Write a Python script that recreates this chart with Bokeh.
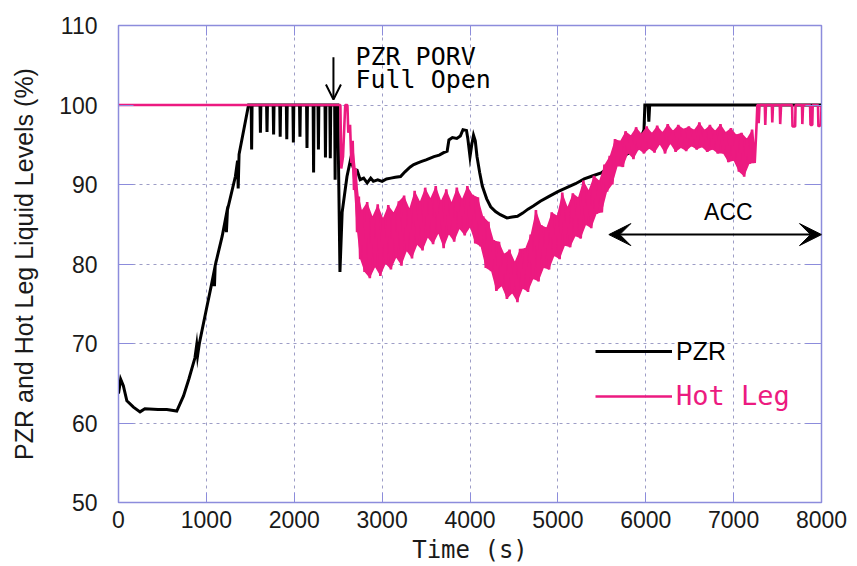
from bokeh.plotting import figure
from bokeh.models import (Range1d, LinearAxis, SingleIntervalTicker, Arrow, VeeHead,
                          OpenHead, Label, Legend, LegendItem)
from bokeh.embed import file_html
from bokeh.resources import INLINE

# ---------------- data ----------------
pzr_t = [0, 25, 55, 95, 170, 245, 300, 450, 550, 663, 740, 800, 870, 890, 900, 920,
         1000, 1060, 1085, 1092, 1100, 1180, 1220, 1228, 1240, 1330, 1355, 1362, 1372, 1480,
         1510, 1515, 1520, 1610, 1615, 1620, 1685, 1690, 1695, 1760, 1765, 1770,
         1835, 1840, 1845, 1910, 1915, 1920, 1985, 1990, 1995, 2060, 2065, 2070,
         2140, 2145, 2150, 2215, 2220, 2225, 2270, 2275, 2280, 2350, 2355, 2360,
         2405, 2410, 2415, 2460, 2465, 2470, 2495, 2520, 2545, 2600, 2640, 2680,
         2715, 2750, 2790, 2830, 2870, 2900, 2950, 3000, 3050, 3100, 3150, 3210,
         3260, 3320, 3360, 3400, 3450, 3500, 3590, 3650, 3700, 3740, 3760, 3800,
         3850, 3890, 3920, 3960, 3975, 4000, 4020, 4040, 4060, 4080, 4110, 4140,
         4190, 4235, 4290, 4345, 4420, 4480, 4540, 4600, 4660, 4720, 4800, 4900,
         5000, 5100, 5200, 5300, 5400, 5500, 5600, 5700, 5800, 5900, 5950, 5980,
         5990, 6025, 6035, 6045, 8000]
pzr_v = [63.7, 65.5, 64.7, 62.8, 62.0, 61.4, 61.8, 61.7, 61.7, 61.5, 63.4, 65.5, 68.2, 69.8, 68.5, 70.0,
         74.3, 77.5, 78.9, 77.2, 79.8, 83.5, 85.8, 84.0, 86.8, 91.0, 93.0, 89.5, 93.8, 100,
         100, 94.4, 100, 100, 96.5, 100, 100, 96.6, 100, 100, 96.3, 100,
         100, 96.0, 100, 100, 95.7, 100, 100, 95.3, 100, 100, 96.0, 100,
         100, 94.6, 100, 100, 91.5, 100, 100, 94.4, 100, 100, 93.4, 100,
         100, 93.3, 100, 100, 90.6, 100, 100, 79.0, 86.5, 91.0, 93.1, 91.9,
         91.8, 90.6, 90.8, 90.2, 90.8, 90.4, 90.6, 90.4, 90.7, 90.8, 90.9, 91.0,
         91.6, 92.2, 92.5, 92.7, 92.9, 93.1, 93.5, 93.7, 94.0, 94.2, 95.6, 95.9,
         95.8, 96.1, 96.9, 96.8, 95.8, 93.5, 95.0, 96.2, 95.5, 93.5, 91.5, 89.8,
         88.2, 87.2, 86.6, 86.2, 85.8, 85.9, 86.0, 86.4, 86.9, 87.3, 87.9, 88.5,
         89.1, 89.6, 90.1, 90.7, 91.1, 91.5, 92.3, 93.3, 93.9, 94.4, 96.0, 96.9,
         100, 100, 97.9, 100, 100]

hot_t = [0, 2525, 2535, 2555, 2580, 2605, 2615, 2635, 2650, 2665, 2680, 2700, 2715, 2735, 2750, 2770,
         2800, 2830, 2860, 2890, 2920, 2950, 2980, 3010, 3040, 3070,
         3100, 3130, 3160, 3190, 3220, 3250, 3280, 3310, 3340, 3370,
         3400, 3430, 3460, 3490, 3520, 3550, 3580, 3610, 3640, 3670,
         3700, 3730, 3760, 3790, 3820, 3850, 3880, 3910, 3940, 3970,
         4000, 4030, 4060, 4090, 4120, 4150, 4180, 4210, 4240, 4270,
         4300, 4330, 4360, 4390, 4420, 4450, 4480, 4510, 4540, 4570,
         4600, 4630, 4660, 4690, 4720, 4750, 4780, 4810, 4840, 4870,
         4900, 4930, 4960, 4990, 5020, 5050, 5080, 5110, 5140, 5170,
         5200, 5230, 5260, 5290, 5320, 5350, 5380, 5410, 5440, 5470,
         5500, 5530, 5560, 5590, 5620, 5650, 5680, 5710, 5740, 5770,
         5800, 5830, 5860, 5890, 5920, 5950, 5980, 6010, 6040, 6070,
         6100, 6130, 6160, 6190, 6220, 6250, 6280, 6310, 6340, 6370,
         6400, 6430, 6460, 6490, 6520, 6550, 6580, 6610, 6640, 6670,
         6700, 6730, 6760, 6790, 6820, 6850, 6880, 6910, 6940, 6970,
         7000, 7030, 7060, 7090, 7120, 7150, 7180, 7210, 7240,
         7260, 7270, 7280, 7285, 7295, 7355, 7360, 7368, 7435, 7440, 7448, 7525, 7530, 7540,
         7665, 7670, 7700, 7705, 7778, 7782, 7790, 7870, 7875, 7895, 7900, 7960, 7965, 7995, 8000]
hot_v = [100, 100, 92.0, 93.5, 100, 100, 96.5, 97.5, 92.7, 95.5, 89.3, 92.0, 84.0, 88.5, 80.6, 86.8,
         79.0, 87.8, 78.2, 86.0, 79.6, 87.5, 78.5, 85.8, 80.0, 87.4,
         79.3, 86.5, 80.8, 87.9, 79.8, 88.6, 81.6, 87.0, 80.7, 89.2,
         82.4, 87.9, 81.7, 89.6, 83.3, 88.3, 82.5, 89.8, 83.8, 88.0,
         82.0, 89.4, 83.7, 87.8, 82.8, 89.6, 84.4, 88.2, 83.6, 89.8,
         84.6, 88.7, 82.6, 88.4, 82.2, 86.0, 79.5, 85.3, 79.1, 83.0,
         76.6, 82.8, 77.2, 81.3, 75.6, 81.8, 76.3, 80.3, 75.2, 81.9,
         76.9, 82.0, 76.5, 83.7, 78.1, 86.8, 77.8, 84.9, 79.5, 84.6,
         79.3, 86.5, 81.0, 86.1, 80.6, 89.0, 82.3, 87.2, 82.1, 88.9,
         83.5, 88.4, 83.2, 90.5, 84.9, 89.3, 84.5, 91.1, 86.3, 90.5,
         86.5, 92.5, 89.1, 93.6, 90.0, 95.7, 92.3, 95.5, 92.2, 96.7,
         93.9, 96.2, 93.2, 97.2, 94.4, 96.4, 93.9, 97.3, 94.5, 96.5,
         94.0, 97.4, 95.0, 96.6, 93.9, 97.6, 95.1, 96.8, 94.1, 97.5,
         94.6, 97.0, 94.2, 97.3, 94.8, 96.9, 94.4, 97.8, 94.7, 96.9,
         94.1, 97.5, 94.4, 96.8, 93.9, 97.6, 93.9, 96.6, 92.8, 97.1,
         93.0, 96.3, 91.6, 96.5, 91.0, 95.8, 92.6, 96.9, 92.7,
         97.2, 100, 100, 97.7, 100, 100, 97.5, 100, 100, 97.8, 100, 100, 97.6, 100,
         100, 97.3, 97.3, 100, 100, 97.6, 100, 100, 97.5, 97.5, 100, 100, 97.3, 97.5, 100]

x_ticks_step = 1000
y_ticks_step = 10
series_names = ["PZR", "Hot Leg"]

# oscillating part of the hot-leg trace: samples alternate trough / crest
osc = slice(8, 165)
osc_t = hot_t[osc]
osc_v = hot_v[osc]
crest_t, crest_v = osc_t[1::2], osc_v[1::2]
trough_t, trough_v = osc_t[0::2], osc_v[0::2]
band_t = crest_t + trough_t[::-1]
band_v = crest_v + trough_v[::-1]

# ---------------- styling ----------------
PINK = "#EC1A80"
FRAME = "#8c8cdc"
GRID = "#9d9dc6"

p = figure(width=850, height=566, output_backend="svg", toolbar_location=None,
           x_range=Range1d(0, 8000), y_range=Range1d(50, 110),
           min_border_left=118, min_border_right=29, min_border_top=25, min_border_bottom=62,
           background_fill_color="white", border_fill_color="white")
p.outline_line_color = FRAME
p.outline_line_width = 1.5

xt = SingleIntervalTicker(interval=x_ticks_step)
yt = SingleIntervalTicker(interval=y_ticks_step)
p.xaxis.ticker = xt
p.yaxis.ticker = yt
p.xgrid.ticker = xt
p.ygrid.ticker = yt
for g in (p.xgrid, p.ygrid):
    g.grid_line_color = GRID
    g.grid_line_dash = "3 4"
    g.grid_line_width = 1

for ax in (p.xaxis, p.yaxis):
    ax.axis_line_color = FRAME
    ax.major_tick_line_color = FRAME
    ax.major_tick_out = 0
    ax.minor_tick_line_color = None
    ax.major_label_text_font = "Liberation Sans"
    ax.major_label_text_font_size = "23px"
    ax.major_label_text_color = "#1a1a1a"
    ax.axis_label_text_font_style = "normal"
    ax.axis_label_text_color = "#1a1a1a"

p.yaxis.major_tick_in = 15
p.xaxis.major_tick_in = 10
p.yaxis.major_label_standoff = 17
p.xaxis.major_label_standoff = 4

p.yaxis.axis_label = "PZR and Hot Leg Liquid Levels (%)"
p.yaxis.axis_label_text_font = "Liberation Sans"
p.yaxis.axis_label_text_font_size = "25px"
p.yaxis.axis_label_standoff = 18

p.xaxis.axis_label = "Time (s)"
p.xaxis.axis_label_text_font = "DejaVu Sans Mono"
p.xaxis.axis_label_text_font_size = "24px"
p.xaxis.axis_label_standoff = 5

right_ax = LinearAxis(ticker=yt, major_label_text_font_size="1px", major_label_text_color=None,
                      axis_line_color=FRAME, major_tick_line_color=FRAME, major_tick_in=16,
                      major_tick_out=0, minor_tick_line_color=None, major_label_standoff=0)
top_ax = LinearAxis(ticker=xt, major_label_text_font_size="1px", major_label_text_color=None,
                    axis_line_color=FRAME, major_tick_line_color=FRAME, major_tick_in=10,
                    major_tick_out=0, minor_tick_line_color=None, major_label_standoff=0)
p.add_layout(right_ax, "right")
p.add_layout(top_ax, "above")

r_pzr = p.line(pzr_t, pzr_v, line_color="black", line_width=3, line_join="miter")
p.patch(band_t, band_v, fill_color=PINK, line_color=None)
r_hot = p.line(hot_t, hot_v, line_color=PINK, line_width=2.6)

# legend (two one-item legends so the label colours can differ)
leg1 = Legend(items=[LegendItem(label=series_names[0], renderers=[r_pzr])],
              location=(477, 136), glyph_width=77, glyph_height=30, label_height=30,
              label_standoff=4, padding=0, margin=0, border_line_color=None,
              background_fill_alpha=0, label_text_font="Liberation Sans",
              label_text_font_size="25px", label_text_color="black")
leg2 = Legend(items=[LegendItem(label=series_names[1], renderers=[r_hot])],
              location=(477, 91), glyph_width=77, glyph_height=30, label_height=30,
              label_standoff=4, padding=0, margin=0, border_line_color=None,
              background_fill_alpha=0, label_text_font="DejaVu Sans Mono",
              label_text_font_size="27px", label_text_color=PINK)
p.add_layout(leg1, "center")
p.add_layout(leg2, "center")

# annotations
p.add_layout(Label(x=2696, y=106.1, text="PZR PORV", text_font="DejaVu Sans Mono",
                   text_font_size="25px", text_baseline="alphabetic", text_color="black"))
p.add_layout(Label(x=2696, y=103.2, text="Full Open", text_font="DejaVu Sans Mono",
                   text_font_size="25px", text_baseline="alphabetic", text_color="black"))
p.add_layout(Arrow(x_start=2446, y_start=106.0, x_end=2446, y_end=100.7,
                   line_width=2, line_color="black",
                   end=OpenHead(size=15, line_width=2, line_color="black")))

p.add_layout(Arrow(x_start=5580, y_start=83.7, x_end=8000, y_end=83.7,
                   line_width=2, line_color="black",
                   start=VeeHead(size=22, fill_color="black", line_color="black"),
                   end=VeeHead(size=22, fill_color="black", line_color="black")))
p.add_layout(Label(x=6940, y=86.6, text="ACC", text_font="Liberation Sans",
                   text_font_size="23px", text_align="center", text_baseline="middle",
                   text_color="black"))

open("out.html", "w").write(file_html(p, INLINE))
